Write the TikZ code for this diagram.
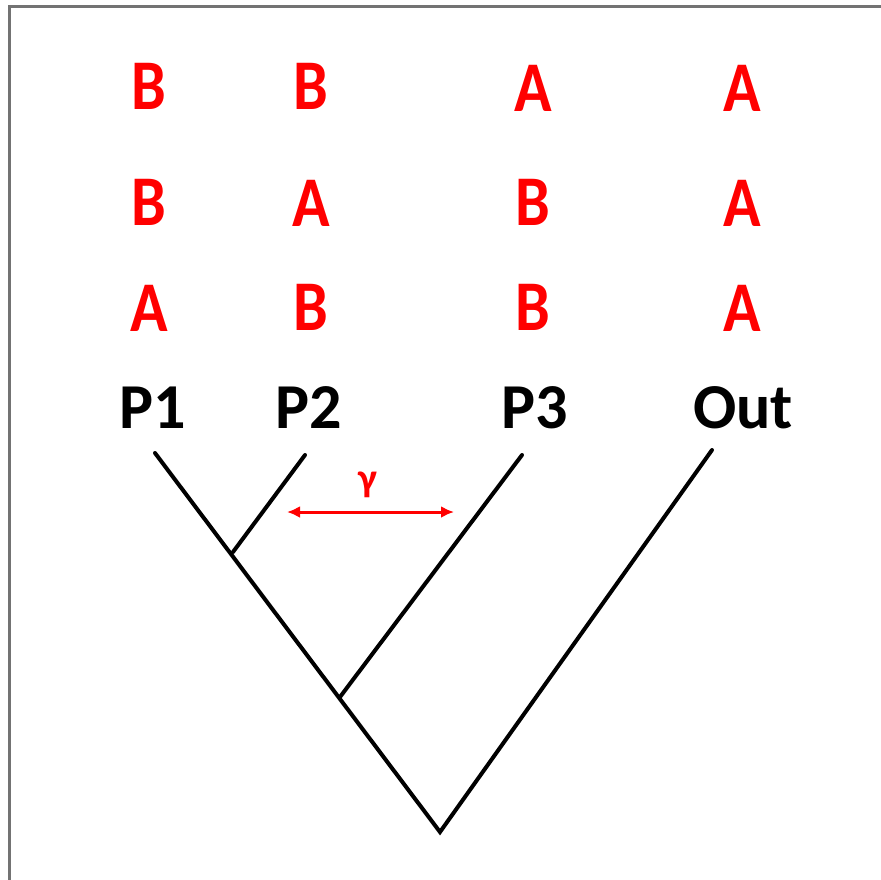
\documentclass[tikz,border=0pt]{standalone}
\usepackage{fontspec}
\setmainfont{Carlito}
\usetikzlibrary{arrows.meta}
\definecolor{allelered}{RGB}{255,0,0}
\tikzset{
  allele/.style={text=allelered, font=\fontsize{62}{62}\selectfont\bfseries, inner sep=0pt, yscale=1.15},
  taxon/.style={text=black, font=\fontsize{64}{64}\selectfont\bfseries, inner sep=0pt},
  branch/.style={draw=black, line width=4pt, line cap=round},
  gammaarrow/.style={draw=allelered, line width=3pt, {Latex[length=13pt,width=12pt]}-{Latex[length=13pt,width=12pt]}},
}
\begin{document}
\begin{tikzpicture}[x=1pt,y=-1pt]
\useasboundingbox (0,0) rectangle (881,879);
\draw[gray!90!black, line width=3pt] (9,6) rectangle (900,900);
% allele rows
\node[allele] (a11) at (149,86) {B};
\node[allele] (a12) at (311,86) {B};
\node[allele] (a13) at (533,88) {A};
\node[allele] (a14) at (742,88) {A};
\node[allele] (a21) at (149,202) {B};
\node[allele] (a22) at (311,203) {A};
\node[allele] (a23) at (533,202) {B};
\node[allele] (a24) at (742,203) {A};
\node[allele] (a31) at (149,308) {A};
\node[allele] (a32) at (311,307) {B};
\node[allele] (a33) at (533,307) {B};
\node[allele] (a34) at (742,308) {A};
% taxa
\node[taxon] (p1) at (153,408) {P1};
\node[taxon] (p2) at (309,408) {P2};
\node[taxon] (p3) at (535,408) {P3};
\node[taxon] (out) at (743,408) {Out};
% tree
\coordinate (t1) at (155,453);
\coordinate (t2) at (305,455);
\coordinate (t3) at (522,455);
\coordinate (t4) at (712,450);
\coordinate (j12) at (233,552);
\coordinate (j123) at (340,697);
\coordinate (root) at (440,832);
\draw[branch] (t1) -- (root) -- (t4);
\draw[branch] (t2) -- (j12);
\draw[branch] (t3) -- (j123);
% gamma
\coordinate (gl) at (287,512);
\coordinate (gr) at (454,512);
\draw[gammaarrow] (gl) -- (gr);
\node[text=allelered, font=\fontsize{40}{40}\selectfont\bfseries, inner sep=0pt] (gamma) at (368,485) {γ};
\end{tikzpicture}
\end{document}
